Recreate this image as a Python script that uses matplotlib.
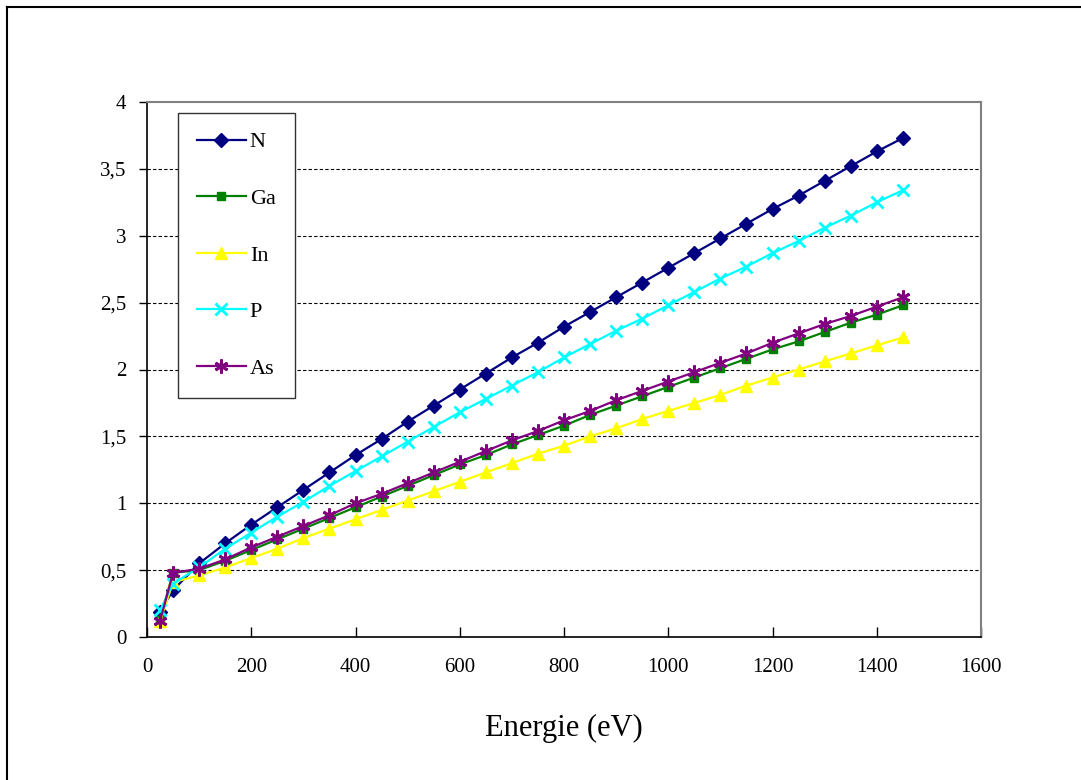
import matplotlib
matplotlib.use("Agg")
import matplotlib.pyplot as plt
from matplotlib.lines import Line2D
from matplotlib.ticker import FuncFormatter, MultipleLocator

energy = [25, 50, 100, 150, 200, 250, 300, 350, 400, 450, 500, 550, 600, 650, 700,
          750, 800, 850, 900, 950, 1000, 1050, 1100, 1150, 1200, 1250, 1300, 1350, 1400, 1450]

n_vals = [0.19, 0.35, 0.55, 0.70, 0.84, 0.97, 1.10, 1.23, 1.36, 1.48, 1.61, 1.73, 1.85, 1.97, 2.09,
          2.20, 2.32, 2.43, 2.54, 2.65, 2.76, 2.87, 2.98, 3.09, 3.20, 3.30, 3.41, 3.52, 3.63, 3.73]
ga_vals = [0.13, 0.48, 0.50, 0.57, 0.65, 0.73, 0.81, 0.89, 0.97, 1.05, 1.13, 1.21, 1.29, 1.36, 1.44,
           1.51, 1.58, 1.66, 1.73, 1.80, 1.87, 1.94, 2.01, 2.08, 2.15, 2.21, 2.28, 2.35, 2.41, 2.48]
in_vals = [0.12, 0.41, 0.46, 0.52, 0.59, 0.66, 0.74, 0.81, 0.88, 0.95, 1.02, 1.09, 1.16, 1.23, 1.30,
           1.37, 1.43, 1.50, 1.56, 1.63, 1.69, 1.75, 1.81, 1.88, 1.94, 2.00, 2.06, 2.12, 2.18, 2.24]
p_vals = [0.20, 0.40, 0.52, 0.66, 0.78, 0.90, 1.01, 1.13, 1.24, 1.35, 1.46, 1.57, 1.68, 1.78, 1.88,
          1.98, 2.09, 2.19, 2.29, 2.38, 2.48, 2.58, 2.68, 2.77, 2.87, 2.96, 3.06, 3.15, 3.25, 3.34]
as_vals = [0.12, 0.48, 0.51, 0.58, 0.67, 0.75, 0.83, 0.91, 1.00, 1.07, 1.15, 1.23, 1.31, 1.39, 1.47,
           1.54, 1.62, 1.69, 1.77, 1.84, 1.91, 1.98, 2.05, 2.12, 2.20, 2.27, 2.34, 2.40, 2.47, 2.54]

labels = ["N", "Ga", "In", "P", "As"]
x_label = "Energie (eV)"

plt.rcParams['font.family'] = ['Liberation Serif', 'DejaVu Serif']

fig = plt.figure(figsize=(10.81, 7.80), dpi=100)
ax = fig.add_axes([147/1081, 1-637/780, (981-147)/1081, (637-102)/780])

series = [n_vals, ga_vals, in_vals, p_vals, as_vals]
colors = ['#000080', '#008000', '#FFFF00', '#00FFFF', '#800080']
markers = ['D', 's', '^', 'x', (6, 2, 0)]
msizes = [7, 6, 9, 9, 10]
mews = [1, 1, 1, 2, 2]

for lab, vals, c, m, ms, mew in zip(labels, series, colors, markers, msizes, mews):
    ax.plot(energy, vals, color=c, marker=m, markersize=ms, markeredgewidth=mew,
            markeredgecolor=c, markerfacecolor=c, linewidth=1.6, label=lab, zorder=3)

ax.set_xlim(0, 1600)
ax.set_ylim(0, 4)
ax.xaxis.set_major_locator(MultipleLocator(200))
ax.yaxis.set_major_locator(MultipleLocator(0.5))

def fmt(v, pos):
    s = ('%g' % v).replace('.', ',')
    return s
ax.yaxis.set_major_formatter(FuncFormatter(fmt))

for yv in [0.5, 1, 1.5, 2, 2.5, 3, 3.5]:
    ax.axhline(yv, color='black', linewidth=0.8, linestyle=(0, (3, 2)), zorder=1)

for side in ['top', 'right']:
    ax.spines[side].set_color('#808080')
    ax.spines[side].set_linewidth(1.5)
for side in ['left', 'bottom']:
    ax.spines[side].set_color('black')
    ax.spines[side].set_linewidth(1.2)

ax.tick_params(axis='x', direction='in', length=7, width=1, pad=15, labelsize=15)
ax.tick_params(axis='y', direction='out', length=6, width=1, pad=9, labelsize=15)

ax.set_xlabel(x_label, fontsize=22, labelpad=27)

leg = ax.legend(loc='upper left', bbox_to_anchor=((178-147)/834, (637-113)/535),
                frameon=True, fancybox=False, edgecolor='#333333', framealpha=1,
                fontsize=16, labelspacing=1.62, handlelength=2.2, handletextpad=0.18,
                borderpad=0.85, borderaxespad=0)
leg.get_frame().set_linewidth(1.0)

fig.add_artist(Line2D([7/1081, 7/1081], [0, 1-7/780], color='black', linewidth=1.5,
                      transform=fig.transFigure))
fig.add_artist(Line2D([7/1081, 1], [1-7/780, 1-7/780], color='black', linewidth=1.5,
                      transform=fig.transFigure))

fig.savefig("out.png", dpi=100)
